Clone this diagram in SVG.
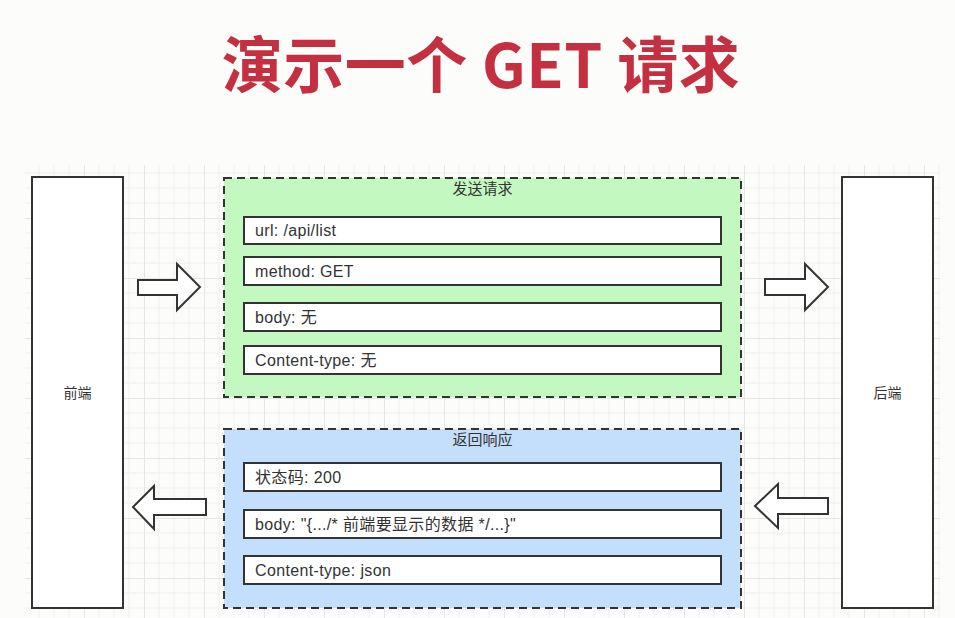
<svg xmlns="http://www.w3.org/2000/svg" width="955" height="618" viewBox="0 0 955 618">
<style>
.bg{fill:#fcfcfa}
.box{fill:#ffffff;stroke:#333333;stroke-width:2}
.field{fill:#ffffff;stroke:#333333;stroke-width:2}
.req{fill:#c3f9c1;stroke:#333333;stroke-width:2;stroke-dasharray:8 5}
.res{fill:#c4dffb;stroke:#333333;stroke-width:2;stroke-dasharray:8 5}
.arrow{fill:#ffffff;stroke:#333333;stroke-width:2;stroke-linejoin:miter}
.t{font-family:"Liberation Sans","Noto Sans CJK SC",sans-serif;font-size:16px;fill:#333333;letter-spacing:0.35px}
.h{font-family:"Liberation Sans","Noto Sans CJK SC",sans-serif;font-size:15px;fill:#333333;text-anchor:middle}
.title{font-family:"Noto Sans CJK SC","Noto Sans",sans-serif;font-weight:700;font-size:61px;fill:#c4303f;text-anchor:middle;letter-spacing:0.5px}
</style>
<defs>
<pattern id="grid" x="24" y="158" width="60" height="60" patternUnits="userSpaceOnUse">
<path d="M15 0V60M30 0V60M45 0V60M0 15H60M0 30H60M0 45H60" stroke="#f0f0ee" stroke-width="1" fill="none"/>
<path d="M0.5 0V60M0 0.5H60" stroke="#e6e6e4" stroke-width="1" fill="none"/>
</pattern>
</defs>
<rect class="bg" x="0" y="0" width="955" height="618"/>
<rect x="25" y="165" width="915" height="453" fill="url(#grid)"/>
<text class="title" x="481" y="88">演示一个 GET 请求</text>

<g id="frontend">
<rect class="box" x="32" y="177" width="91" height="431"/>
<text class="h" x="77.5" y="398" style="font-size:14px">前端</text>
</g>
<g id="backend">
<rect class="box" x="842" y="177" width="91" height="431"/>
<text class="h" x="887.5" y="398" style="font-size:14px">后端</text>
</g>

<g id="request">
<rect class="req" x="224" y="178" width="517" height="219"/>
<text class="h" x="482.5" y="194">发送请求</text>
<g id="req-url"><rect class="field" x="244" y="217" width="477" height="27"/><text class="t" x="255" y="236">url: /api/list</text></g>
<g id="req-method"><rect class="field" x="244" y="257" width="477" height="28"/><text class="t" x="255" y="277">method: GET</text></g>
<g id="req-body"><rect class="field" x="244" y="303" width="477" height="28"/><text class="t" x="255" y="323">body: 无</text></g>
<g id="req-ctype"><rect class="field" x="244" y="346" width="477" height="28"/><text class="t" x="255" y="366">Content-type: 无</text></g>
</g>

<g id="response">
<rect class="res" x="224" y="429" width="517" height="179"/>
<text class="h" x="482.5" y="445">返回响应</text>
<g id="res-status"><rect class="field" x="244" y="463" width="477" height="28"/><text class="t" x="255" y="483">状态码: 200</text></g>
<g id="res-body"><rect class="field" x="244" y="510" width="477" height="28"/><text class="t" x="255" y="530">body: "{.../* 前端要显示的数据 */...}"</text></g>
<g id="res-ctype"><rect class="field" x="244" y="556" width="477" height="28"/><text class="t" x="255" y="576">Content-type: json</text></g>
</g>

<g id="connectors">
<path class="arrow" d="M138 280H177V264L200 287L177 310V295H138Z"/>
<path class="arrow" d="M765 279H805V264L828 287L805 310V295H765Z"/>
<path class="arrow" d="M206 499H154V486L133 507L154 529V515H206Z"/>
<path class="arrow" d="M828 498H778V484L755 506L778 528V514H828Z"/>
</g>
</svg>
